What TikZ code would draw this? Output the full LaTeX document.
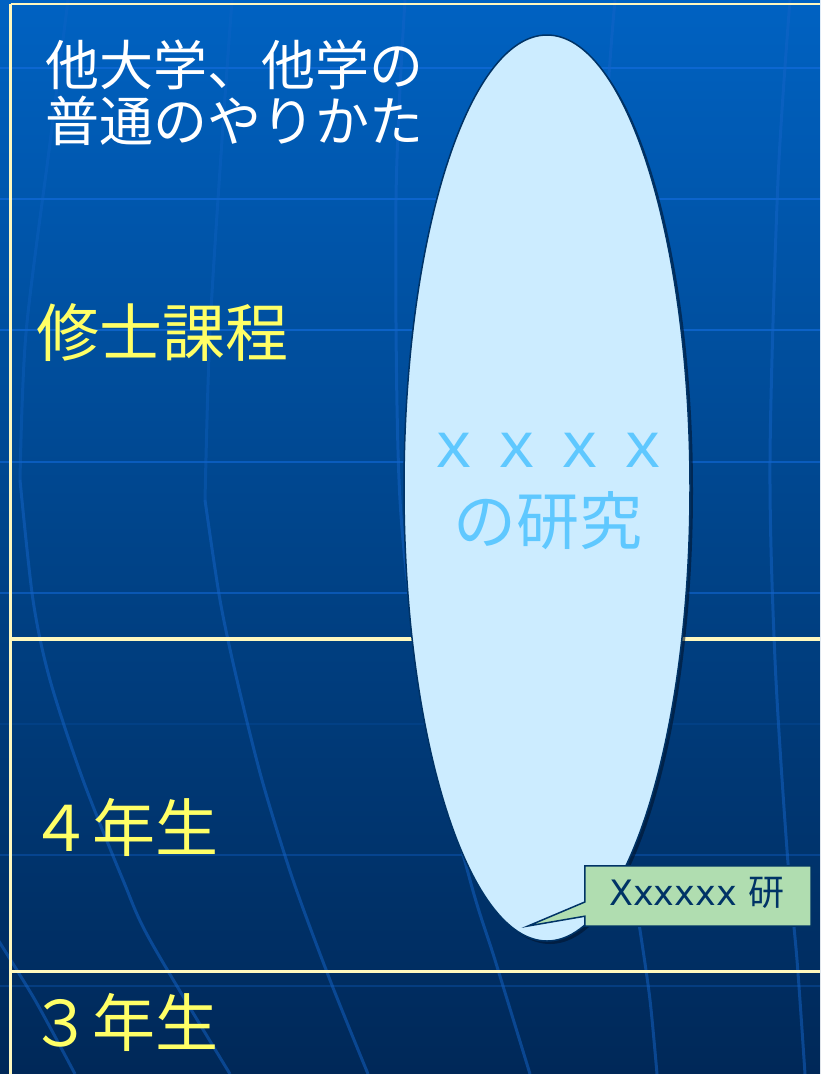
\documentclass[tikz,border=0pt]{standalone}
\usepackage{fontspec}
\setmainfont{Noto Sans CJK JP}
\newfontfamily\jpfont{Noto Sans CJK JP}
\newfontfamily\latfont{DejaVu Sans}
\usetikzlibrary{shapes.geometric}
\definecolor{bgtop}{RGB}{0,98,194}
\definecolor{bgmid}{RGB}{0,68,138}
\definecolor{bgbot}{RGB}{0,40,88}
\definecolor{cream}{RGB}{255,248,190}
\definecolor{gridblue}{RGB}{20,110,225}
\definecolor{merblue}{RGB}{20,100,200}
\definecolor{yel}{RGB}{255,255,102}
\definecolor{ellfill}{RGB}{204,236,255}
\definecolor{navy}{RGB}{0,51,102}
\definecolor{txtblue}{RGB}{95,200,255}
\definecolor{callgreen}{RGB}{176,221,176}
\definecolor{shadowc}{RGB}{0,20,45}
\tikzset{
  frameline/.style={draw=cream, line width=2.8pt},
  gridline/.style={draw=gridblue, line width=2.5pt},
  meridian/.style={draw=merblue, line width=3pt, opacity=0.5},
  titletext/.style={anchor=base west, inner sep=0pt, text=white, font=\jpfont\fontsize{54}{60}\selectfont},
  yeltext/.style={anchor=base west, inner sep=0pt, text=yel, font=\jpfont\fontsize{63}{68}\selectfont},
  elltext/.style={anchor=base, inner sep=0pt, text=txtblue, font=\jpfont\fontsize{63}{70}\selectfont},
}
\begin{document}
\begin{tikzpicture}[x=1pt,y=-1pt]
\useasboundingbox (0,0) rectangle (820,1074);
% background
\shade[top color=bgtop, bottom color=bgbot, middle color=bgmid] (0,0) rectangle (820,1074);
% horizontal grid
\foreach \yy/\op in {68/0.6,199/0.6,330/0.6,462/0.55,593/0.5,724/0.12,855/0.3,986/0.25}{
  \draw[gridline, opacity=\op] (0,\yy) -- (820,\yy);
}
% meridians
\draw[meridian] plot[smooth] coordinates {(-5,935) (35,1000) (75,1074)};
\draw[meridian, opacity=0.35] plot[smooth] coordinates {(68,0) (50,143) (26,333) (20,480)};
\draw[meridian] plot[smooth] coordinates {(20,480) (33,600) (50,680) (83,780) (123,880) (150,940) (230,1074)};
\draw[meridian, opacity=0.35] plot[smooth] coordinates {(232,0) (222,140) (210,330) (205,500)};
\draw[meridian] plot[smooth] coordinates {(205,500) (220,600) (237,680) (262,780) (293,880) (330,980) (368,1074)};
\draw[meridian] plot[smooth] coordinates {(405,0) (396,200) (400,500) (425,700) (470,880) (495,960) (530,1074)};
\draw[meridian] plot[smooth] coordinates {(615,0) (605,160) (605,500) (620,800) (640,930) (650,1000) (657,1074)};
\draw[meridian] plot[smooth] coordinates {(790,0) (778,180) (770,460) (775,660) (787,850) (797,960) (805,1074)};
% frame lines
\draw[frameline] (10.5,4) -- (820,4);
\draw[frameline] (10.5,4) -- (10.5,1074);
\draw[frameline, line width=3.2pt] (10.5,639) -- (820,639);
\draw[frameline] (10.5,971.5) -- (820,971.5);
% title
\node[titletext] (t1) at (45,85) {他大学、他学の};
\node[titletext] (t2) at (45,141) {普通のやりかた};
% year labels
\node[yeltext] (shushi) at (36,356) {修士課程};
\node[yeltext] (y4) at (29,851) {４年生};
\node[yeltext] (y3) at (29,1046) {３年生};
% ellipse
\node[ellipse, fill=shadowc, opacity=0.6, minimum width=286pt, minimum height=906pt, inner sep=0pt] (ellsh) at (550,491) {};
\node[ellipse, draw=navy, line width=1.5pt, fill=ellfill, minimum width=286pt, minimum height=906pt, inner sep=0pt] (ell) at (547,488) {};
\node[elltext] (xx) at (548,467) {ｘｘｘｘ};
\node[elltext] (ken) at (548,544) {の研究};
% callout
\node[minimum width=226pt, minimum height=60pt, inner sep=0pt] (lab) at (698,896) {};
\coordinate (tip) at (528,926);
\path[fill=callgreen, draw=navy, line width=1.5pt, line join=miter]
  (lab.north west) -- (lab.north east) -- (lab.south east) -- (lab.south west)
  -- ([yshift=10pt]lab.south west) -- (tip) -- ([yshift=-6pt]lab.west) -- cycle;
\node[text=navy, inner sep=0pt, anchor=base west] (labtext) at (609,905) {{\latfont\fontsize{35}{40}\selectfont Xxxxxx}\hspace{12pt}{\jpfont\fontsize{36}{40}\selectfont 研}};
\end{tikzpicture}
\end{document}
